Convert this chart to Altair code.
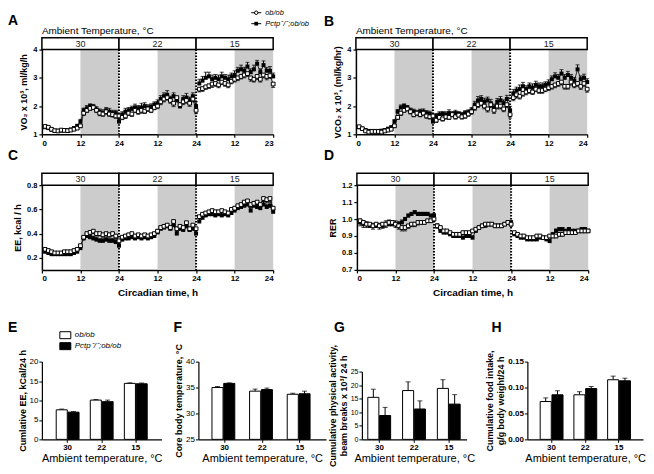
import altair as alt
import pandas as pd

FONT = "Liberation Sans"
SEGMENTS = ["30", "22", "15"]
HOURS = list(range(1, 25))
CATS = ["30", "22", "15"]
GENO = ["ob", "ko"]

# ---------------- Panel A: VO2 x 10^3, ml/kg/h ----------------
vo2_ob = [1.28, 1.25, 1.18, 1.13, 1.12, 1.15, 1.14, 1.13, 1.15, 1.18, 1.22, 1.30, 1.75, 1.85, 1.92, 1.95, 1.85, 1.75, 1.72, 1.80, 1.72, 1.70, 1.65, 1.65,
          1.60, 1.65, 1.75, 1.72, 1.85, 1.80, 1.85, 1.82, 1.90, 1.85, 1.95, 2.00, 2.15, 2.25, 2.30, 2.20, 2.10, 2.30, 2.05, 2.15, 2.20, 2.10, 2.25, 1.85,
          2.60, 2.62, 2.68, 2.72, 2.78, 2.80, 2.75, 2.85, 2.80, 2.75, 2.88, 2.95, 3.00, 3.05, 3.10, 3.15, 3.00, 2.95, 3.05, 2.95, 3.10, 3.05, 3.08, 2.78]
vo2_ko = [1.25, 1.22, 1.16, 1.12, 1.12, 1.13, 1.14, 1.15, 1.17, 1.22, 1.30, 1.45, 1.85, 1.92, 2.00, 1.98, 1.88, 1.80, 1.75, 1.85, 1.80, 1.75, 1.75, 1.45,
          1.70, 1.80, 1.85, 1.90, 1.95, 1.92, 1.95, 2.00, 1.95, 1.98, 2.05, 2.10, 2.25, 2.35, 2.40, 2.25, 2.35, 2.20, 2.00, 2.25, 2.30, 2.20, 2.35, 2.00,
          2.80, 2.90, 3.00, 3.05, 2.95, 3.00, 2.95, 3.05, 3.00, 2.95, 3.05, 3.10, 3.25, 3.30, 3.25, 3.40, 3.20, 3.30, 3.50, 3.20, 3.45, 3.25, 3.25, 3.05]
vo2_ob_sem = [0.05, 0.05, 0.04, 0.03, 0.03, 0.03, 0.03, 0.03, 0.03, 0.04, 0.05, 0.06, 0.08, 0.08, 0.07, 0.07, 0.08, 0.09, 0.08, 0.09, 0.08, 0.09, 0.08, 0.10,
              0.08, 0.09, 0.08, 0.09, 0.08, 0.09, 0.10, 0.08, 0.09, 0.08, 0.08, 0.09, 0.10, 0.10, 0.09, 0.10, 0.12, 0.10, 0.12, 0.10, 0.10, 0.11, 0.10, 0.12,
              0.10, 0.10, 0.09, 0.10, 0.12, 0.10, 0.10, 0.09, 0.10, 0.10, 0.09, 0.10, 0.10, 0.09, 0.10, 0.10, 0.12, 0.10, 0.11, 0.10, 0.10, 0.12, 0.10, 0.12]
vo2_ko_sem = [0.05, 0.04, 0.04, 0.03, 0.03, 0.03, 0.03, 0.03, 0.04, 0.05, 0.05, 0.08, 0.08, 0.10, 0.08, 0.08, 0.10, 0.10, 0.12, 0.10, 0.12, 0.10, 0.10, 0.15,
              0.10, 0.12, 0.10, 0.10, 0.12, 0.10, 0.15, 0.12, 0.10, 0.10, 0.10, 0.12, 0.12, 0.12, 0.15, 0.10, 0.12, 0.15, 0.12, 0.12, 0.15, 0.12, 0.12, 0.15,
              0.15, 0.15, 0.20, 0.15, 0.15, 0.12, 0.15, 0.15, 0.12, 0.15, 0.12, 0.15, 0.12, 0.15, 0.12, 0.15, 0.12, 0.15, 0.12, 0.12, 0.15, 0.12, 0.15, 0.12]

# ---------------- Panel B: VCO2 x 10^3, ml/kg/hr ----------------
vco2_ob = [1.27, 1.20, 1.12, 1.08, 1.10, 1.10, 1.10, 1.08, 1.12, 1.15, 1.18, 1.30, 1.60, 1.75, 1.85, 1.90, 1.80, 1.70, 1.75, 1.70, 1.75, 1.65, 1.62, 1.65,
           1.50, 1.60, 1.55, 1.62, 1.60, 1.70, 1.62, 1.68, 1.62, 1.65, 1.72, 1.80, 1.95, 2.05, 2.10, 2.00, 1.90, 2.05, 1.85, 2.00, 2.00, 1.90, 2.05, 1.70,
           2.30, 2.40, 2.35, 2.45, 2.50, 2.55, 2.50, 2.60, 2.55, 2.55, 2.60, 2.65, 2.70, 2.75, 2.80, 2.85, 2.70, 2.70, 2.85, 2.75, 2.80, 2.70, 2.80, 2.60]
vco2_ko = [1.25, 1.20, 1.15, 1.12, 1.12, 1.12, 1.12, 1.13, 1.15, 1.20, 1.25, 1.45, 1.80, 1.95, 2.00, 1.95, 1.85, 1.80, 1.75, 1.80, 1.80, 1.75, 1.72, 1.45,
           1.65, 1.70, 1.72, 1.70, 1.75, 1.72, 1.75, 1.72, 1.70, 1.75, 1.78, 1.85, 2.05, 2.20, 2.25, 2.15, 2.20, 2.10, 1.95, 2.15, 2.20, 2.10, 2.25, 1.85,
           2.45, 2.55, 2.60, 2.70, 2.60, 2.70, 2.65, 2.75, 2.70, 2.70, 2.75, 2.80, 2.95, 3.05, 3.00, 3.15, 3.00, 3.10, 3.00, 2.90, 3.30, 2.95, 3.00, 2.85]
vco2_ob_sem = [0.05, 0.04, 0.04, 0.03, 0.03, 0.03, 0.03, 0.03, 0.03, 0.04, 0.04, 0.06, 0.07, 0.08, 0.07, 0.07, 0.08, 0.08, 0.08, 0.08, 0.08, 0.08, 0.08, 0.12,
               0.08, 0.08, 0.08, 0.08, 0.07, 0.08, 0.08, 0.07, 0.08, 0.08, 0.08, 0.09, 0.10, 0.10, 0.09, 0.10, 0.11, 0.10, 0.11, 0.10, 0.10, 0.10, 0.10, 0.12,
               0.11, 0.12, 0.10, 0.10, 0.10, 0.10, 0.09, 0.09, 0.10, 0.10, 0.09, 0.10, 0.10, 0.10, 0.10, 0.10, 0.10, 0.10, 0.11, 0.10, 0.10, 0.11, 0.10, 0.11]
vco2_ko_sem = [0.05, 0.04, 0.04, 0.03, 0.03, 0.03, 0.03, 0.03, 0.04, 0.04, 0.05, 0.07, 0.08, 0.09, 0.08, 0.07, 0.08, 0.09, 0.10, 0.09, 0.10, 0.09, 0.10, 0.14,
               0.09, 0.10, 0.09, 0.10, 0.12, 0.09, 0.10, 0.09, 0.08, 0.09, 0.09, 0.10, 0.12, 0.14, 0.12, 0.13, 0.12, 0.14, 0.12, 0.12, 0.14, 0.12, 0.13, 0.14,
               0.14, 0.12, 0.15, 0.14, 0.12, 0.12, 0.14, 0.13, 0.12, 0.12, 0.11, 0.13, 0.12, 0.13, 0.12, 0.14, 0.12, 0.13, 0.12, 0.11, 0.16, 0.12, 0.13, 0.12]

# ---------------- Panel C: EE, kcal / h ----------------
ee_ob = [0.27, 0.26, 0.25, 0.24, 0.24, 0.24, 0.25, 0.25, 0.25, 0.26, 0.27, 0.30, 0.37, 0.40, 0.41, 0.42, 0.40, 0.40, 0.39, 0.40, 0.39, 0.40, 0.38, 0.34,
         0.37, 0.38, 0.39, 0.40, 0.38, 0.39, 0.38, 0.39, 0.38, 0.39, 0.40, 0.42, 0.45, 0.46, 0.47, 0.45, 0.50, 0.44, 0.46, 0.45, 0.49, 0.44, 0.47, 0.44,
         0.54, 0.56, 0.57, 0.58, 0.59, 0.58, 0.58, 0.59, 0.58, 0.57, 0.60, 0.61, 0.63, 0.64, 0.66, 0.67, 0.64, 0.65, 0.66, 0.64, 0.69, 0.68, 0.69, 0.61]
ee_ko = [0.25, 0.24, 0.23, 0.23, 0.23, 0.23, 0.23, 0.23, 0.23, 0.24, 0.25, 0.28, 0.36, 0.38, 0.37, 0.36, 0.35, 0.34, 0.34, 0.35, 0.34, 0.34, 0.33, 0.30,
         0.35, 0.36, 0.36, 0.37, 0.36, 0.37, 0.36, 0.37, 0.36, 0.37, 0.38, 0.41, 0.44, 0.45, 0.46, 0.44, 0.47, 0.40, 0.44, 0.43, 0.46, 0.43, 0.44, 0.40,
         0.50, 0.53, 0.55, 0.56, 0.56, 0.55, 0.56, 0.55, 0.56, 0.55, 0.57, 0.59, 0.61, 0.62, 0.63, 0.64, 0.59, 0.63, 0.62, 0.61, 0.64, 0.62, 0.63, 0.58]
ee_ob_sem = [0.012, 0.010, 0.010, 0.010, 0.010, 0.010, 0.010, 0.010, 0.010, 0.010, 0.012, 0.015, 0.020, 0.020, 0.020, 0.020, 0.020, 0.020, 0.020, 0.020, 0.020, 0.020, 0.020, 0.025,
             0.020, 0.020, 0.020, 0.020, 0.020, 0.020, 0.020, 0.020, 0.020, 0.020, 0.020, 0.020, 0.020, 0.020, 0.020, 0.020, 0.025, 0.025, 0.020, 0.020, 0.025, 0.020, 0.020, 0.030,
             0.030, 0.025, 0.025, 0.020, 0.020, 0.020, 0.020, 0.020, 0.020, 0.020, 0.020, 0.020, 0.020, 0.020, 0.020, 0.020, 0.020, 0.020, 0.020, 0.020, 0.025, 0.025, 0.025, 0.020]
ee_ko_sem = [0.010, 0.010, 0.010, 0.010, 0.010, 0.010, 0.010, 0.010, 0.010, 0.010, 0.012, 0.015, 0.020, 0.020, 0.018, 0.018, 0.020, 0.018, 0.018, 0.020, 0.018, 0.020, 0.020, 0.025,
             0.020, 0.020, 0.018, 0.020, 0.018, 0.020, 0.018, 0.020, 0.018, 0.020, 0.020, 0.020, 0.020, 0.022, 0.020, 0.020, 0.025, 0.025, 0.022, 0.020, 0.025, 0.022, 0.022, 0.030,
             0.030, 0.025, 0.025, 0.022, 0.020, 0.022, 0.020, 0.025, 0.020, 0.022, 0.020, 0.020, 0.020, 0.020, 0.022, 0.020, 0.025, 0.020, 0.022, 0.020, 0.025, 0.022, 0.025, 0.022]

# ---------------- Panel D: RER ----------------
rer_ob = [0.99, 0.98, 0.97, 0.97, 0.96, 0.97, 0.96, 0.97, 0.97, 0.98, 0.98, 0.97, 0.96, 0.95, 0.95, 0.96, 0.97, 0.97, 0.98, 0.98, 0.98, 0.99, 0.99, 1.00,
          0.96, 0.95, 0.93, 0.93, 0.92, 0.91, 0.91, 0.91, 0.92, 0.92, 0.92, 0.93, 0.94, 0.95, 0.96, 0.97, 0.97, 0.97, 0.96, 0.96, 0.96, 0.97, 0.98, 0.97,
          0.92, 0.91, 0.90, 0.90, 0.89, 0.89, 0.89, 0.90, 0.90, 0.89, 0.89, 0.90, 0.90, 0.90, 0.91, 0.91, 0.92, 0.92, 0.92, 0.92, 0.93, 0.93, 0.93, 0.93]
rer_ko = [0.98, 0.97, 0.97, 0.96, 0.96, 0.96, 0.96, 0.96, 0.97, 0.97, 0.97, 0.97, 0.97, 0.98, 1.00, 1.02, 1.03, 1.04, 1.03, 1.03, 1.03, 1.03, 1.02, 1.02,
          0.96, 0.93, 0.92, 0.92, 0.91, 0.90, 0.90, 0.90, 0.89, 0.90, 0.90, 0.89, 0.93, 0.95, 0.96, 0.96, 0.97, 0.97, 0.96, 0.96, 0.96, 0.97, 0.98, 0.98,
          0.91, 0.90, 0.89, 0.89, 0.88, 0.88, 0.88, 0.88, 0.89, 0.89, 0.88, 0.87, 0.91, 0.93, 0.94, 0.94, 0.93, 0.94, 0.93, 0.93, 0.93, 0.94, 0.94, 0.93]
rer_ob_sem = [0.030, 0.030, 0.020, 0.020, 0.020, 0.020, 0.020, 0.025, 0.020, 0.020, 0.020, 0.020, 0.020, 0.020, 0.020, 0.015, 0.015, 0.015, 0.015, 0.010, 0.010, 0.010, 0.010, 0.010,
              0.015, 0.015, 0.012, 0.012, 0.010, 0.010, 0.010, 0.010, 0.010, 0.010, 0.010, 0.010, 0.010, 0.010, 0.010, 0.010, 0.010, 0.010, 0.010, 0.010, 0.010, 0.010, 0.010, 0.012,
              0.012, 0.010, 0.010, 0.010, 0.010, 0.010, 0.010, 0.010, 0.010, 0.010, 0.010, 0.010, 0.010, 0.010, 0.010, 0.010, 0.010, 0.010, 0.010, 0.010, 0.010, 0.010, 0.010, 0.010]
rer_ko_sem = [0.020, 0.020, 0.015, 0.015, 0.015, 0.015, 0.015, 0.015, 0.020, 0.025, 0.020, 0.020, 0.015, 0.015, 0.010, 0.010, 0.010, 0.010, 0.010, 0.010, 0.010, 0.010, 0.010, 0.012,
              0.012, 0.012, 0.012, 0.010, 0.012, 0.010, 0.010, 0.010, 0.010, 0.010, 0.010, 0.012, 0.010, 0.010, 0.010, 0.010, 0.010, 0.010, 0.010, 0.010, 0.010, 0.010, 0.010, 0.012,
              0.012, 0.010, 0.010, 0.010, 0.010, 0.010, 0.010, 0.010, 0.010, 0.010, 0.010, 0.012, 0.010, 0.012, 0.010, 0.010, 0.010, 0.010, 0.010, 0.010, 0.010, 0.010, 0.010, 0.010]

# ---------------- Bar panels E-H (order: 30, 22, 15 degC) ----------------
cum_ee_ob = [7.6, 10.1, 14.4]
cum_ee_ko = [7.0, 9.7, 14.3]
cum_ee_ob_err = [0.2, 0.15, 0.15]
cum_ee_ko_err = [0.15, 0.4, 0.2]

tcore_ob = [35.0, 34.3, 33.7]
tcore_ko = [35.8, 34.6, 33.8]
tcore_ob_err = [0.2, 0.4, 0.2]
tcore_ko_err = [0.1, 0.3, 0.5]

activity_ob = [15.5, 18.0, 18.8]
activity_ko = [8.8, 11.2, 13.0]
activity_ob_err = [3.0, 3.2, 3.2]
activity_ko_err = [3.0, 3.0, 3.5]

food_ob = [0.073, 0.086, 0.115]
food_ko = [0.086, 0.098, 0.113]
food_ob_err = [0.007, 0.006, 0.007]
food_ko_err = [0.008, 0.004, 0.005]

LEG_OB = "ob/ob"
LEG_KO = "Pctp⁻/⁻;ob/ob"


def ts_frame(vals, sem, up):
    t = [s * 24 + h for s in range(3) for h in HOURS]
    seg = [SEGMENTS[s] for s in range(3) for h in HOURS]
    df = pd.DataFrame({"t": t, "seg": seg, "v": vals, "e": sem})
    if up:
        df["lo"] = df["v"]
        df["hi"] = df["v"] + df["e"]
    else:
        df["lo"] = df["v"] - df["e"]
        df["hi"] = df["v"]
    return df


def txt(label, x, y, size=8, weight="normal", style="normal", align="left", baseline="middle"):
    return alt.Chart(pd.DataFrame({"lab": [label]})).mark_text(
        font=FONT, fontSize=size, fontWeight=weight, fontStyle=style, align=align,
        baseline=baseline, color="black"
    ).encode(x=alt.value(x), y=alt.value(y), text="lab:N")


def ts_panel(letter, lpos, ob, ko, ob_sem, ko_sem, ydom, yticks, yfmt, ytitle,
             last_label, xtitle=None, top_title=False, legend=False):
    W, H = 232, 85
    lab_expr = ("datum.value == 0 ? '0' : (datum.value == 72 ? '%s' : "
                "(datum.value %% 24 == 0 ? '24' : '12'))" % last_label)
    xax = alt.Axis(values=[0, 12, 24, 36, 48, 60, 72], labelExpr=lab_expr, title=xtitle,
                   labelFontSize=8, labelFontWeight="bold", tickSize=3, domainWidth=1.5,
                   tickWidth=1.2, labelPadding=2, titleFontSize=10, titleFontWeight="bold",
                   titlePadding=5, grid=False)
    xs = alt.Scale(domain=[0, 72], nice=False, zero=False)
    ys = alt.Scale(domain=ydom, nice=False, zero=False)
    yax = alt.Axis(values=yticks, format=yfmt, title=ytitle, labelFontSize=7.5,
                   labelFontWeight="bold", tickSize=3, domainWidth=1.5, tickWidth=1.2,
                   labelPadding=2, titleFontSize=9, titleFontWeight="bold", titlePadding=4,
                   grid=False)

    def X(f):
        return alt.X(f, scale=xs, axis=xax)

    def Y(f):
        return alt.Y(f, scale=ys, axis=yax)

    dob = ts_frame(ob, ob_sem, False)
    dko = ts_frame(ko, ko_sem, True)

    shade = alt.Chart(pd.DataFrame({"x0": [12, 36, 60], "x1": [24, 48, 72]})).mark_rect(
        color="#cccccc").encode(x=X("x0:Q"), x2="x1:Q", y=alt.value(0), y2=alt.value(H))
    dotted = alt.Chart(pd.DataFrame({"xd": [24, 48]})).mark_rule(
        color="black", strokeWidth=2, strokeDash=[1.5, 1.5]).encode(
        x=X("xd:Q"), y=alt.value(0), y2=alt.value(H))
    hdr = pd.DataFrame({"x0": [0, 24, 48], "x1": [24, 48, 72], "xm": [12, 36, 60], "lab": SEGMENTS})
    hbox = alt.Chart(hdr).mark_rect(fill="white", stroke="black", strokeWidth=1.5).encode(
        x=X("x0:Q"), x2="x1:Q", y=alt.value(-12), y2=alt.value(0))
    htxt = alt.Chart(hdr).mark_text(font=FONT, fontSize=9, color="#222222").encode(
        x=X("xm:Q"), y=alt.value(-6), text="lab:N")

    def series(df, filled):
        line = alt.Chart(df).mark_line(color="black", strokeWidth=0.8).encode(
            x=X("t:Q"), y=Y("v:Q"), detail="seg:N")
        err = alt.Chart(df).mark_rule(color="black", strokeWidth=1).encode(
            x=X("t:Q"), y=Y("lo:Q"), y2="hi:Q")
        cap = alt.Chart(df).mark_tick(color="black", thickness=1, size=4, orient="horizontal").encode(
            x=X("t:Q"), y=Y(("hi:Q" if filled else "lo:Q")))
        if filled:
            pts = alt.Chart(df).mark_point(shape="square", filled=True, color="black", size=16,
                                           opacity=1).encode(x=X("t:Q"), y=Y("v:Q"))
        else:
            pts = alt.Chart(df).mark_point(shape="square", filled=True, fill="white", stroke="black",
                                           strokeWidth=1, size=14, opacity=1).encode(
                x=X("t:Q"), y=Y("v:Q"))
        return [line, err, cap, pts]

    layers = [shade, dotted, hbox, htxt] + series(dko, True) + series(dob, False)
    layers.append(txt(letter, lpos[0], lpos[1], size=14, weight="bold", baseline="top"))
    if top_title:
        layers.append(txt("Ambient Temperature, °C", 0, -19, size=10))
    if legend:
        for yy, filled, lab in [(-37, False, LEG_OB), (-26, True, LEG_KO)]:
            one = pd.DataFrame({"k": [0]})
            layers.append(alt.Chart(one).mark_rule(color="black", strokeWidth=1).encode(
                x=alt.value(210), x2=alt.value(220), y=alt.value(yy)))
            if filled:
                layers.append(alt.Chart(one).mark_point(shape="square", filled=True, color="black",
                                                        size=14, opacity=1).encode(
                    x=alt.value(215), y=alt.value(yy)))
            else:
                layers.append(alt.Chart(one).mark_point(shape="circle", filled=True, fill="white",
                                                        stroke="black", strokeWidth=1, size=12,
                                                        opacity=1).encode(
                    x=alt.value(215), y=alt.value(yy)))
            layers.append(txt(lab, 224, yy, size=7.5, style="italic"))
    return alt.layer(*layers).properties(width=W, height=H)


def bar_panel(letter, lpos, ob, ko, ob_e, ko_e, ydom, yticks, yfmt, ytitle, W, H,
              pad_outer, yrange=None, legend=False, bold_labels=False, ylab_size=8):
    df = pd.DataFrame({"cat": CATS * 2, "g": ["ob"] * 3 + ["ko"] * 3,
                       "v": ob + ko, "e": ob_e + ko_e})
    df["hi"] = df["v"] + df["e"]
    xsc = alt.Scale(paddingInner=0.33, paddingOuter=pad_outer)
    xax = alt.Axis(title="Ambient temperature, °C", labelAngle=0, labelFontSize=8,
                   labelFontWeight="bold", tickSize=3, domainWidth=1.2, tickWidth=1,
                   labelPadding=1, titleFontSize=11, titleFontWeight="normal", titlePadding=1,
                   grid=False)
    x = alt.X("cat:N", sort=CATS, scale=xsc, axis=xax)
    xo = alt.XOffset("g:N", sort=GENO, scale=alt.Scale(paddingInner=0.06))
    if yrange is None:
        ysc = alt.Scale(domain=ydom, nice=False, zero=False)
    else:
        ysc = alt.Scale(domain=ydom, nice=False, zero=False, range=yrange)
    yax = alt.Axis(values=yticks, format=yfmt, title=ytitle, labelFontSize=ylab_size,
                   labelFontWeight=("bold" if bold_labels else "normal"), tickSize=3,
                   domainWidth=1.2, tickWidth=1, labelPadding=1, titleFontSize=9,
                   titleFontWeight="bold", titlePadding=2, grid=False)
    fill = alt.Fill("g:N", scale=alt.Scale(domain=GENO, range=["white", "black"]), legend=None)
    err = alt.Chart(df).mark_rule(color="black", strokeWidth=1).encode(
        x=x, xOffset=xo, y=alt.Y("v:Q", scale=ysc, axis=yax), y2="hi:Q")
    cap = alt.Chart(df).mark_tick(color="black", thickness=1, size=5, orient="horizontal").encode(
        x=x, xOffset=xo, y=alt.Y("hi:Q", scale=ysc, axis=yax))
    bars = alt.Chart(df).mark_bar(stroke="black", strokeWidth=1).encode(
        x=x, xOffset=xo, y=alt.Y("v:Q", scale=ysc, axis=yax), y2=alt.datum(ydom[0]), fill=fill)
    layers = [err, cap, bars, txt(letter, lpos[0], lpos[1], size=14, weight="bold", baseline="top")]
    if legend:
        for y0, col, lab in [(-30, "white", LEG_OB), (-19, "black", LEG_KO)]:
            one = pd.DataFrame({"k": [0]})
            layers.append(alt.Chart(one).mark_rect(fill=col, stroke="black", strokeWidth=1).encode(
                x=alt.value(18), x2=alt.value(29), y=alt.value(y0), y2=alt.value(y0 + 7)))
            layers.append(txt(lab, 33, y0 + 3.5, size=8, style="italic"))
    return alt.layer(*layers).properties(width=W, height=H)


A = ts_panel("A", (-34, -36), vo2_ob, vo2_ko, vo2_ob_sem, vo2_ko_sem, [1, 4], [1, 2, 3, 4], "d",
             "VO₂ x 10³, ml/kg/h", "23", top_title=True, legend=True)
B = ts_panel("B", (-32, -35), vco2_ob, vco2_ko, vco2_ob_sem, vco2_ko_sem, [1, 4], [1, 2, 3, 4], "d",
             "VCO₂ x 10³, (ml/kg/hr)", "24", top_title=True)
C = ts_panel("C", (-34, -36), ee_ob, ee_ko, ee_ob_sem, ee_ko_sem, [0.1, 0.8], [0.2, 0.4, 0.6, 0.8], ".1f",
             "EE, kcal / h", "24", xtitle="Circadian time, h")
D = ts_panel("D", (-33, -36), rer_ob, rer_ko, rer_ob_sem, rer_ko_sem, [0.7, 1.2],
             [0.7, 0.8, 0.9, 1.0, 1.1, 1.2], ".1f", "RER", "24", xtitle="Circadian time, h")

E = bar_panel("E", (-34, -41), cum_ee_ob, cum_ee_ko, cum_ee_ob_err, cum_ee_ko_err, [0, 20],
              [0, 5, 10, 15, 20], "d", "Cumlative EE, kCal/24 h", 120, 78, 0.42, legend=True)
F = bar_panel("F", (-25, -41), tcore_ob, tcore_ko, tcore_ob_err, tcore_ko_err, [25, 40],
              [25, 30, 35, 40], "d", "Core body temperature, °C", 128, 78, 0.36)
G = bar_panel("G", (-28, -41), activity_ob, activity_ko, activity_ob_err, activity_ko_err, [0, 25],
              [0, 5, 10, 15, 20, 25], "d",
              ["Cumulative physical activity,", "beam breaks x 10³/ 24 h"], 105, 78, 0.17,
              yrange=[78, 10], ylab_size=7)
H = bar_panel("H", (-36, -41), food_ob, food_ko, food_ob_err, food_ko_err, [0, 0.15],
              [0, 0.05, 0.10, 0.15], ".2f",
              ["Cumulative food intake,", "g/g body weight/24 h"], 116, 78, 0.38, bold_labels=True)

row1 = alt.hconcat(A, B, spacing=15)
row2 = alt.hconcat(C, D, spacing=47)
row3 = alt.hconcat(alt.hconcat(E, F, spacing=11), alt.hconcat(G, H, spacing=10), spacing=2)
top = alt.vconcat(row1, row2, spacing=2)

chart = alt.vconcat(top, row3, spacing=23).properties(
    padding=0, background="white"
).configure_view(stroke=None).configure_axis(
    grid=False, domainColor="black", tickColor="black", labelColor="black",
    titleColor="black", labelFont=FONT, titleFont=FONT
).configure_text(font=FONT)

chart.save("out.html", embed_options={"renderer": "svg", "actions": False})
